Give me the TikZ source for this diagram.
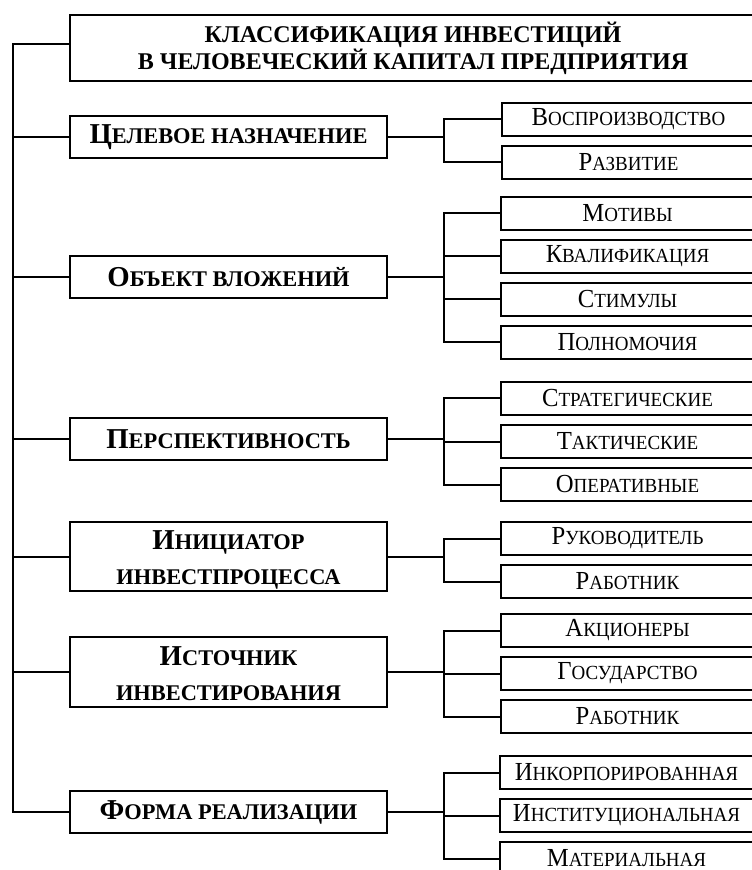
\documentclass[tikz,border=0pt]{standalone}
\usepackage{fontspec}
\setmainfont{Liberation Serif}
\newfontfamily\subfont[FakeStretch=0.95]{Liberation Serif}
\usetikzlibrary{positioning,calc}

% large initial + small capitals
\newcommand{\capsA}[2]{{\fontsize{14.4}{17.5}\selectfont #1}{\fontsize{11.2}{17.5}\selectfont #2}}
\newcommand{\capsB}[2]{{\subfont{\fontsize{13}{15}\selectfont #1}{\fontsize{10}{15}\selectfont #2}}}

\tikzset{
  % Title box
  titlebox/.style={
    draw, line width=1pt, anchor=north west,
    minimum width=343pt, minimum height=32.5pt,
    align=center, font=\bfseries\fontsize{12}{13.5}\selectfont
  },
  % Classification feature box
  catbox/.style={
    draw, line width=1pt, anchor=north west,
    minimum width=158.5pt, minimum height=#1,
    align=center, font=\bfseries\fontsize{11.2}{17.5}\selectfont
  },
  catbox/.default=21pt,
  % two-line feature box: text sits a little low
  catbox2/.style={
    catbox=#1, text height=28pt, text depth=0pt
  },
  % Sub-item box
  subbox/.style={
    draw, line width=1pt, anchor=north west,
    minimum width=126.5pt, minimum height=16.5pt, inner sep=0pt
  },
  % Connector line
  link/.style={line width=1pt},
}

\begin{document}
\begin{tikzpicture}[x=0.5pt, y=-0.5pt]
\useasboundingbox (0,0) rectangle (751,870);

% ── Title ─────────────────────────────────────────────────────────────────────
\node[titlebox] (title) at (69,14)
  {КЛАССИФИКАЦИЯ ИНВЕСТИЦИЙ\\В ЧЕЛОВЕЧЕСКИЙ КАПИТАЛ ПРЕДПРИЯТИЯ};

% ── Classification features ───────────────────────────────────────────────────
\node[catbox] (goal) at (69,115) {\capsA{Ц}{ЕЛЕВОЕ НАЗНАЧЕНИЕ}};
\node[catbox] (obj) at (69,255) {\capsA{О}{БЪЕКТ ВЛОЖЕНИЙ}};
\node[catbox] (persp) at (69,417) {\capsA{П}{ЕРСПЕКТИВНОСТЬ}};
\node[catbox2=34.5pt] (init) at (69,521)
  {\capsA{И}{НИЦИАТОР}\\\capsA{}{ИНВЕСТПРОЦЕССА}};
\node[catbox2=35pt] (src) at (69,636)
  {\capsA{И}{СТОЧНИК}\\\capsA{}{ИНВЕСТИРОВАНИЯ}};
\node[catbox] (form) at (69,790) {\capsA{Ф}{ОРМА РЕАЛИЗАЦИИ}};

% ── Sub-items ─────────────────────────────────────────────────────────────────
\node[subbox] (g1) at (501,102) {\capsB{В}{ОСПРОИЗВОДСТВО}};
\node[subbox, below=4pt of g1] (g2) {\capsB{Р}{АЗВИТИЕ}};

\node[subbox] (o1) at (500,196) {\capsB{М}{ОТИВЫ}};
\node[subbox, below=4pt of o1] (o2) {\capsB{К}{ВАЛИФИКАЦИЯ}};
\node[subbox, below=4pt of o2] (o3) {\capsB{С}{ТИМУЛЫ}};
\node[subbox, below=4pt of o3] (o4) {\capsB{П}{ОЛНОМОЧИЯ}};

\node[subbox] (p1) at (500,381) {\capsB{С}{ТРАТЕГИЧЕСКИЕ}};
\node[subbox, below=4pt of p1] (p2) {\capsB{Т}{АКТИЧЕСКИЕ}};
\node[subbox, below=4pt of p2] (p3) {\capsB{О}{ПЕРАТИВНЫЕ}};

\node[subbox] (i1) at (500,521) {\capsB{Р}{УКОВОДИТЕЛЬ}};
\node[subbox, below=4pt of i1] (i2) {\capsB{Р}{АБОТНИК}};

\node[subbox] (s1) at (500,613) {\capsB{А}{КЦИОНЕРЫ}};
\node[subbox, below=4pt of s1] (s2) {\capsB{Г}{ОСУДАРСТВО}};
\node[subbox, below=4pt of s2] (s3) {\capsB{Р}{АБОТНИК}};

\node[subbox] (f1) at (499,755) {\capsB{И}{НКОРПОРИРОВАННАЯ}};
\node[subbox, below=4pt of f1] (f2) {\capsB{И}{НСТИТУЦИОНАЛЬНАЯ}};
\node[subbox, below=4pt of f2] (f3) {\capsB{М}{АТЕРИАЛЬНАЯ}};

% ── Trunk ─────────────────────────────────────────────────────────────────────
\coordinate (trunk) at (13,0);
\draw[link] ([yshift=2pt]title.west) -| (trunk |- form.west) -- (form.west);
\foreach \c in {goal,obj,persp,init,src}
  \draw[link] (trunk |- \c.west) -- (\c.west);

% ── Branches ──────────────────────────────────────────────────────────────────
\foreach \c in {g1,g2}
  \draw[link] (goal.east) -- ++(56,0) |- (\c.west);
\foreach \c in {o1,o2,o3,o4}
  \draw[link] (obj.east) -- ++(56,0) |- (\c.west);
\foreach \c in {p1,p2,p3}
  \draw[link] (persp.east) -- ++(56,0) |- (\c.west);
\foreach \c in {i1,i2}
  \draw[link] (init.east) -- ++(56,0) |- (\c.west);
\foreach \c in {s1,s2,s3}
  \draw[link] (src.east) -- ++(56,0) |- (\c.west);
\foreach \c in {f1,f2,f3}
  \draw[link] (form.east) -- ++(56,0) |- (\c.west);

\end{tikzpicture}
\end{document}
